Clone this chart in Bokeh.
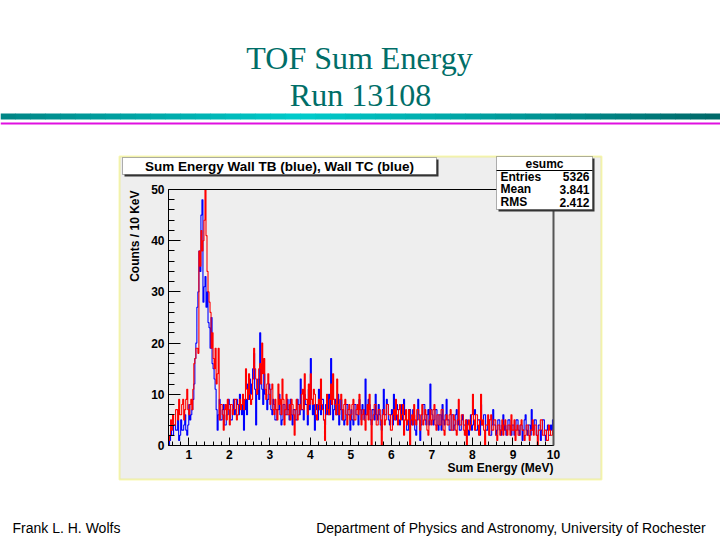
from bokeh.plotting import figure
from bokeh.models import (BoxAnnotation, Label, Range1d,
                          SingleIntervalTicker, ColumnDataSource)
from bokeh.embed import file_html
from bokeh.resources import INLINE

# histogram esumc (counts per bin, bins of 0.025 MeV from 0.5 MeV)
BIN_START = 0.5
BIN_WIDTH = 0.025

wall_tb = [
    0, 1, 3, 2, 2, 4, 4, 3, 3, 5, 1, 2, 5, 3, 3, 4, 6, 3, 2, 4,
    8, 5, 6, 7, 9, 12, 17, 20, 27, 30, 38, 34, 45, 48, 28, 31, 33, 27, 30, 24,
    23, 19, 25, 16, 15, 13, 11, 7, 3, 6, 9, 5, 5, 7, 8, 4, 4, 6, 6, 9,
    8, 5, 5, 7, 9, 6, 7, 9, 8, 6, 10, 8, 6, 9, 3, 7, 9, 6, 12, 9,
    13, 10, 12, 15, 18, 11, 4, 10, 13, 9, 22, 12, 11, 8, 14, 10, 10, 7, 9, 12,
    11, 7, 6, 9, 8, 5, 5, 7, 7, 10, 6, 4, 5, 8, 8, 6, 6, 9, 7, 5,
    9, 6, 4, 7, 7, 5, 5, 9, 8, 6, 13, 7, 7, 5, 10, 8, 8, 4, 11, 7,
    17, 9, 6, 8, 3, 7, 8, 5, 11, 7, 6, 9, 9, 5, 4, 8, 7, 6, 10, 6,
    17, 8, 5, 7, 9, 6, 6, 10, 4, 7, 9, 5, 7, 4, 5, 8, 8, 6, 6, 3,
    7, 5, 4, 8, 8, 6, 6, 4, 9, 7, 5, 8, 7, 5, 13, 6, 6, 9, 8, 5,
    4, 7, 7, 5, 10, 6, 5, 8, 6, 4, 3, 7, 11, 6, 6, 9, 8, 5, 4, 6,
    7, 4, 10, 6, 5, 8, 7, 5, 4, 6, 8, 5, 9, 6, 5, 3, 3, 7, 7, 5,
    4, 7, 6, 3, 2, 5, 9, 6, 1, 4, 6, 8, 8, 5, 4, 6, 7, 4, 12, 7,
    6, 4, 5, 7, 7, 4, 3, 6, 6, 3, 8, 5, 4, 6, 9, 5, 5, 3, 3, 6,
    6, 3, 4, 6, 7, 4, 5, 3, 3, 5, 6, 4, 4, 2, 5, 3, 2, 4, 6, 3,
    4, 6, 7, 3, 3, 5, 5, 2, 8, 4, 4, 6, 6, 3, 3, 5, 5, 2, 2, 4,
    7, 4, 4, 2, 3, 5, 5, 3, 2, 4, 6, 3, 4, 2, 3, 5, 5, 3, 2, 4,
    4, 2, 3, 5, 5, 3, 2, 4, 4, 1, 3, 5, 6, 3, 2, 4, 4, 2, 7, 3,
    3, 5, 5, 2, 2, 4, 4, 1, 3, 5, 5, 2, 1, 3, 4, 2, 2, 4, 3, 5,
]

wall_tc = [
    1, 2, 5, 3, 6, 4, 4, 7, 7, 5, 9, 6, 6, 8, 9, 5, 7, 9, 11, 7,
    6, 8, 9, 7, 11, 16, 17, 19, 19, 18, 38, 35, 42, 38, 40, 44, 50, 41, 34, 30,
    28, 26, 19, 22, 17, 15, 19, 12, 14, 19, 5, 8, 8, 6, 3, 7, 8, 5, 9, 7,
    4, 8, 8, 6, 7, 9, 9, 5, 6, 8, 9, 7, 8, 10, 7, 9, 15, 11, 9, 14,
    10, 8, 9, 13, 19, 15, 13, 10, 11, 15, 16, 12, 20, 14, 17, 11, 9, 12, 14, 10,
    8, 11, 12, 7, 6, 9, 7, 5, 12, 8, 9, 6, 13, 9, 4, 7, 10, 6, 6, 8,
    5, 9, 8, 6, 2, 7, 9, 5, 6, 8, 7, 10, 11, 7, 14, 9, 9, 6, 12, 8,
    14, 9, 8, 11, 10, 6, 5, 8, 9, 7, 13, 8, 7, 5, 1, 6, 10, 7, 6, 9,
    12, 8, 14, 9, 8, 6, 13, 8, 6, 9, 10, 7, 5, 8, 9, 6, 4, 7, 8, 5,
    6, 8, 9, 5, 5, 7, 8, 6, 10, 7, 4, 6, 7, 5, 3, 6, 8, 5, 10, 7,
    0, 5, 6, 8, 8, 4, 4, 7, 7, 5, 0, 6, 7, 4, 5, 8, 8, 6, 6, 3,
    3, 6, 7, 5, 9, 6, 4, 7, 8, 5, 6, 8, 2, 5, 7, 4, 5, 7, 0, 5,
    6, 4, 8, 5, 4, 7, 7, 5, 3, 6, 8, 4, 5, 7, 6, 3, 2, 5, 7, 4,
    5, 7, 8, 4, 3, 6, 6, 4, 4, 7, 7, 3, 2, 5, 6, 4, 4, 6, 7, 3,
    3, 6, 5, 3, 2, 5, 9, 4, 4, 6, 6, 3, 2, 5, 0, 4, 5, 3, 4, 6,
    10, 5, 3, 6, 6, 4, 2, 5, 10, 4, 5, 3, 0, 4, 4, 6, 2, 5, 6, 3,
    3, 5, 5, 2, 1, 4, 4, 2, 3, 5, 2, 4, 5, 3, 2, 4, 4, 2, 6, 3,
    3, 5, 1, 3, 4, 2, 2, 4, 5, 3, 3, 1, 2, 4, 4, 2, 1, 3, 3, 5,
    2, 4, 4, 2, 0, 3, 3, 5, 5, 2, 2, 3, 3, 1, 1, 4, 3, 2, 2, 3,
]

stats_names = ["Entries", "Mean", "RMS"]
stats_values = ["5326", "3.841", "2.412"]

X0, X1 = 0.5, 10.0
Y0, Y1 = 0.0, 50.0

# where the histogram frame sits on the page (pixels); the whole page is the
# plot frame and the axes are pinned with fixed_location
FL, FR, FT, FB = 168, 553, 189, 445
W, H = 720, 540


def fx(px):
    return X0 + (px - FL) * (X1 - X0) / (FR - FL)


def fy(py):
    return Y0 + (FB - py) * (Y1 - Y0) / (FB - FT)


def box(l, r, t, b, color, level="underlay", **kw):
    p.add_layout(BoxAnnotation(left=fx(l), right=fx(r), top=fy(t), bottom=fy(b),
                               fill_color=color, fill_alpha=1,
                               line_color=kw.pop("line_color", None),
                               level=level, **kw))


def label(px, py, text, size="12px", align="left", bold=True, level="overlay",
          font="Liberation Sans", color="black", baseline="middle", angle=0):
    p.add_layout(Label(x=fx(px), y=fy(py), text=text, text_font=font,
                       text_font_size=size, text_align=align,
                       text_font_style="bold" if bold else "normal",
                       text_color=color, text_baseline=baseline,
                       angle=angle, level=level))


p = figure(
    width=W, height=H,
    x_range=Range1d(fx(0), fx(W)), y_range=Range1d(fy(H), fy(0)),
    output_backend="svg", toolbar_location=None, min_border=0,
    background_fill_color="white", border_fill_color="white",
    outline_line_color=None,
)
p.grid.visible = False

for ax in (p.xaxis[0], p.yaxis[0]):
    ax.axis_line_color = "black"
    ax.major_tick_line_color = "black"
    ax.minor_tick_line_color = "black"
    ax.major_tick_out = 0
    ax.minor_tick_out = 0
    ax.major_label_text_font = "Liberation Sans"
    ax.major_label_text_font_style = "bold"
    ax.major_label_text_font_size = "12px"
    ax.major_label_text_color = "black"

p.xaxis.fixed_location = Y0
p.xaxis.bounds = (X0, X1)
p.xaxis.ticker = SingleIntervalTicker(interval=1, num_minor_ticks=5)
p.xaxis.major_tick_in = 8
p.xaxis.minor_tick_in = 4
p.xaxis.major_label_standoff = 4

p.yaxis.fixed_location = X0
p.yaxis.bounds = (Y0, Y1)
p.yaxis.ticker = SingleIntervalTicker(interval=10, num_minor_ticks=5)
p.yaxis.major_tick_in = 12
p.yaxis.minor_tick_in = 6
p.yaxis.major_label_standoff = 4

# slide header
label(359, 57, "TOF Sum Energy", size="32px", align="center", bold=False,
      font="Liberation Serif", color="#006e68", baseline="alphabetic")
label(360, 94, "Run 13108", size="32px", align="center", bold=False,
      font="Liberation Serif", color="#006e68", baseline="alphabetic")

n_seg = 48
for i in range(n_seg):
    a = i * W / n_seg
    b = a + W / n_seg + 0.5
    t = max(0.0, 1 - abs((a + b) / 2 - 300) / 430)
    g = int(0x66 + (0xcc - 0x66) * t)
    box(a, b, 113, 119, "#%02x%02x%02x" % (0, g, g))
box(0, W, 122, 124, "#e010e0")

# footer
label(12, 527, "Frank L. H. Wolfs", size="14px", bold=False, baseline="alphabetic")
label(706, 527, "Department of Physics and Astronomy, University of Rochester",
      size="14px", align="right", bold=False, baseline="alphabetic")

# ROOT pad
box(119, 601, 156, 479, "#eeeeee", line_color="#e8e800", line_width=2)

# histograms
edges = [BIN_START + BIN_WIDTH * i for i in range(len(wall_tb) + 1)]
src_tb = ColumnDataSource(dict(x=edges, y=wall_tb + [wall_tb[-1]]))
src_tc = ColumnDataSource(dict(x=edges, y=wall_tc + [wall_tc[-1]]))
p.step("x", "y", source=src_tb, mode="after", line_color="#0000ff", line_width=1.1)
p.step("x", "y", source=src_tc, mode="after", line_color="#ff0000", line_width=1.1)

# frame top and right edges
box(FL, 496, FT - 0.5, FT + 0.5, "black", level="annotation")
box(FR - 1, FR + 1, 209, FB, "#555555", level="annotation")

# axis titles, ROOT style
label(134, 190, "Counts / 10 KeV", align="right", angle=1.5708)
label(553, 467, "Sum Energy (MeV)", align="right")

# title box with shadow
box(124, 438, 159, 176, "#333333", level="overlay")
box(122, 436, 157, 174, "white", level="overlay", line_color="black", line_width=1)
label(279, 166, "Sum Energy Wall TB (blue), Wall TC (blue)", size="13.5px", align="center")

# stats box with shadow
box(498, 594, 158, 211, "#333333", level="overlay")
box(496, 592, 156, 209, "white", level="overlay", line_color="black", line_width=1)
box(496, 592, 169.5, 170.5, "black", level="overlay")
label(544, 163, "esumc", align="center")
for k, (name, val) in enumerate(zip(stats_names, stats_values)):
    label(500, 176 + 12.8 * k, name)
    label(589, 176 + 12.8 * k, val, align="right")

open("out.html", "w").write(file_html(p, INLINE))
